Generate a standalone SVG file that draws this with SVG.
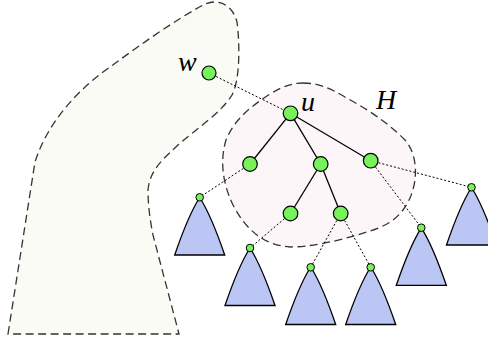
<svg xmlns="http://www.w3.org/2000/svg" width="488" height="343" viewBox="0 0 488 343">
<style>
.region{stroke:#333;stroke-width:1.3;stroke-dasharray:8,4.5;}
.solid{stroke:#000;stroke-width:1.3;fill:none;}
.dot{stroke:#000;stroke-width:1;stroke-dasharray:2,2;fill:none;}
.big{fill:#77f25a;stroke:#000;stroke-width:1.2;}
.small{fill:#77f25a;stroke:#000;stroke-width:1;}
.tri{fill:#bcc6f4;stroke:#000;stroke-width:1.3;}
.lbl{font-family:"Liberation Serif","DejaVu Serif",serif;font-style:italic;font-size:28px;fill:#000;}
</style>
<defs>
<path id="tri" d="M0,0 Q-11.5,18 -25,57.5 L25,57.5 Q11.5,18 0,0 Z"/>
</defs>
<g id="regionW">
<path class="region" fill="#fbfbf5" d="M8,334 L35,162 C45,130 70,95 110,67 C140,45 175,20 205,4 C220,-2 233,6 237,22 C240,45 240,80 232,95 C222,112 195,130 178,145 C162,160 150,170 148,190 C148,205 150,220 153,235 L179,334 Z"/>
</g>
<g id="regionH">
<path class="region" fill="#fdf6f8" d="M303,83 C318,83 330,88 345,97 C365,108 385,120 405,140 C418,155 418,180 410,198 C402,215 392,224 370,231 C340,241 310,247 290,247 C262,245 245,228 233,205 C222,182 220,160 226,140 C234,120 250,107 270,94 C283,86 293,83 303,83 Z"/>
</g>
<g id="connectors">
<line class="dot" x1="209" y1="73" x2="290.5" y2="113.3"/>
<line class="solid" x1="290.5" y1="113.3" x2="250" y2="164"/>
<line class="solid" x1="290.5" y1="113.3" x2="320.7" y2="164"/>
<line class="solid" x1="290.5" y1="113.3" x2="370.7" y2="160.7"/>
<line class="solid" x1="320.7" y1="164" x2="290.5" y2="213.5"/>
<line class="solid" x1="320.7" y1="164" x2="340.7" y2="213.5"/>
<line class="dot" x1="250" y1="164" x2="199.7" y2="197.3"/>
<line class="dot" x1="370.7" y1="160.7" x2="471.5" y2="187.3"/>
<line class="dot" x1="370.7" y1="160.7" x2="421.3" y2="227.7"/>
<line class="dot" x1="290.5" y1="213.5" x2="250" y2="248"/>
<line class="dot" x1="340.7" y1="213.5" x2="310.7" y2="267.3"/>
<line class="dot" x1="340.7" y1="213.5" x2="370.7" y2="267.3"/>
</g>
<g id="subtrees">
<use href="#tri" class="tri" x="199.7" y="197.5"/>
<use href="#tri" class="tri" x="250" y="248"/>
<use href="#tri" class="tri" x="310.7" y="267"/>
<use href="#tri" class="tri" x="370.7" y="267"/>
<use href="#tri" class="tri" x="421.3" y="227.8"/>
<use href="#tri" class="tri" x="471.5" y="187.5"/>
</g>
<g id="w"><circle class="big" cx="209" cy="73" r="7"/><text class="lbl" x="178" y="71">w</text></g>
<g id="u"><circle class="big" cx="290.5" cy="113.3" r="7.3"/><text class="lbl" x="301" y="111">u</text></g>
<g id="Hlabel"><text class="lbl" x="376" y="109">H</text></g>
<g id="a"><circle class="big" cx="250" cy="164" r="7.3"/></g>
<g id="b"><circle class="big" cx="320.7" cy="164" r="7.3"/></g>
<g id="c"><circle class="big" cx="370.7" cy="160.7" r="7.3"/></g>
<g id="d"><circle class="big" cx="290.5" cy="213.5" r="7.3"/></g>
<g id="e"><circle class="big" cx="340.7" cy="213.5" r="7.3"/></g>
<g id="s1"><circle class="small" cx="199.7" cy="197.3" r="3.8"/></g>
<g id="s2"><circle class="small" cx="250" cy="248" r="3.8"/></g>
<g id="s3"><circle class="small" cx="310.7" cy="267.3" r="3.8"/></g>
<g id="s4"><circle class="small" cx="370.7" cy="267.3" r="3.8"/></g>
<g id="s5"><circle class="small" cx="421.3" cy="227.7" r="3.8"/></g>
<g id="s6"><circle class="small" cx="471.5" cy="187.3" r="3.8"/></g>
</svg>
